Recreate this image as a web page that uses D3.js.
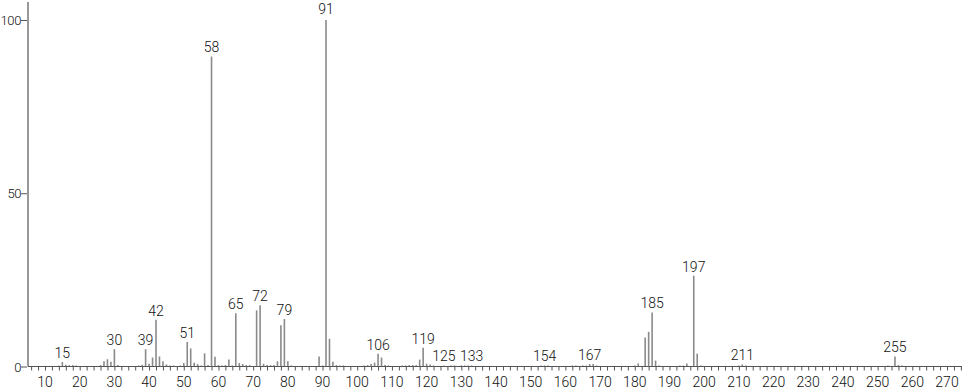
<!DOCTYPE html>
<html>
<head>
<meta charset="utf-8">
<script src="https://cdn.jsdelivr.net/npm/d3@7"></script>
<style>
	body { margin: 0; background: #fff; }
	svg text { font-family: Roboto, "Liberation Sans", sans-serif; font-weight: 300; font-size: 14px; fill: #111; }
	svg .ytick text { font-size: 13px; letter-spacing: -0.4px; }
</style>
</head>
<body>
<svg width="966" height="389"></svg>
<script>
// m/z values and relative intensities
var mz = [14, 15, 16, 17, 18, 19, 26, 27, 28, 29, 30, 31, 37, 38, 39, 40, 41, 42, 43, 44,
	45, 46, 47, 49, 50, 51, 52, 53, 54, 55, 56, 57, 58, 59, 60, 61, 62, 63, 64, 65,
	66, 67, 68, 69, 71, 72, 73, 74, 75, 76, 77, 78, 79, 80, 81, 89, 90, 91, 92, 93,
	94, 95, 96, 102, 103, 104, 105, 106, 107, 108, 109, 113, 114, 115, 116, 117, 118, 119, 120, 121,
	122, 125, 127, 128, 130, 131, 132, 133, 153, 154, 155, 162, 163, 165, 166, 167, 168, 169, 180, 181,
	183, 184, 185, 186, 187, 193, 194, 195, 197, 198, 199, 210, 211, 212, 253, 255, 256, 257];
var intensity = [0.3, 1.3, 0.5, 0.4, 0.4, 0.3, 0.4, 1.5, 2.1, 1.4, 5.0, 0.4, 0.3, 0.5, 5.0, 0.8, 2.6, 13.5, 2.9, 1.5,
	0.6, 0.3, 0.3, 0.3, 1.0, 7.1, 5.2, 1.1, 0.7, 0.3, 3.8, 0.4, 89.5, 2.8, 0.4, 0.3, 0.4, 2.0, 0.3, 15.4,
	1.0, 0.7, 0.4, 0.4, 16.2, 17.7, 0.8, 0.4, 0.4, 0.4, 1.5, 11.9, 13.7, 1.5, 0.3, 2.9, 0.3, 100, 8.0, 1.4,
	0.4, 0.3, 0.3, 0.3, 0.4, 0.7, 1.1, 3.7, 2.6, 0.4, 0.3, 0.3, 0.3, 0.4, 0.4, 0.4, 2.0, 5.4, 0.8, 0.6,
	0.3, 0.3, 0.3, 0.3, 0.3, 0.3, 0.3, 0.3, 0.3, 0.3, 0.3, 0.3, 0.3, 0.3, 0.3, 0.7, 0.7, 0.3, 0.3, 0.9,
	8.4, 10.0, 15.6, 1.7, 0.3, 0.3, 0.3, 0.9, 26.2, 3.7, 0.3, 0.3, 0.6, 0.3, 0.3, 2.9, 0.4, 0.3];
var labelled = [15, 30, 39, 42, 51, 58, 65, 72, 79, 91, 106, 119, 125, 133, 154, 167, 185, 197, 211, 255];
var xTicks = d3.range(10, 271, 10);
var yTicks = [0, 50, 100];

var peaks = mz.map((m, i) => ({ mz: m, v: intensity[i] }));

var svg = d3.select("svg");

var x = d3.scaleLinear().domain([10, 270]).range([45, 947]);
var y = d3.scaleLinear().domain([0, 100]).range([366.5, 20]);

var x0 = 28,
	x1 = 962,
	y0 = y(0);

// y axis line
svg.append("line")
	.attr("x1", x0).attr("x2", x0)
	.attr("y1", 2).attr("y2", y0)
	.attr("stroke", "#999").attr("stroke-width", 2);

// bars
svg.selectAll(".peak")
	.data(peaks)
	.enter()
	.append("line")
	.attr("class", "peak")
	.attr("x1", (d) => x(d.mz))
	.attr("x2", (d) => x(d.mz))
	.attr("y1", y0)
	.attr("y2", (d) => y(d.v))
	.attr("stroke", "#8a8a8a")
	.attr("stroke-width", 1.6);

// x baseline + ticks
svg.append("line")
	.attr("x1", x0).attr("x2", x1)
	.attr("y1", y0).attr("y2", y0)
	.attr("stroke", "#555").attr("stroke-width", 1);

var xAxis = d3.axisBottom(x)
	.tickValues(d3.range(6, 275, 2))
	.tickSize(4)
	.tickFormat("");
svg.append("g")
	.attr("transform", "translate(0," + y0 + ")")
	.call(xAxis)
	.call((g) => g.select(".domain").remove())
	.call((g) => g.selectAll("line").attr("stroke", "#555"));

svg.selectAll(".xlab")
	.data(xTicks)
	.enter()
	.append("text")
	.attr("class", "xlab")
	.attr("x", (d) => x(d))
	.attr("y", 386.5)
	.attr("text-anchor", "middle")
	.text((d) => d);

// y ticks
var yAxis = d3.axisLeft(y)
	.tickValues(yTicks)
	.tickSize(6)
	.tickPadding(0);
svg.append("g")
	.attr("class", "ytick")
	.attr("transform", "translate(" + (x0 - 1) + ",0)")
	.call(yAxis)
	.call((g) => g.select(".domain").remove())
	.call((g) => g.selectAll("line").attr("stroke", "#555"))
	.call((g) => g.selectAll("text").attr("font-size", null).attr("font-family", null).attr("fill", null).attr("dy", "0.36em"));

// peak labels
var lab = peaks.filter((d) => labelled.indexOf(d.mz) >= 0);
svg.selectAll(".plab")
	.data(lab)
	.enter()
	.append("text")
	.attr("class", "plab")
	.attr("x", (d) => x(d.mz))
	.attr("y", (d) => y(d.v) - (d.v > 95 ? 6 : 4))
	.attr("text-anchor", "middle")
	.text((d) => d.mz);
</script>
</body>
</html>
